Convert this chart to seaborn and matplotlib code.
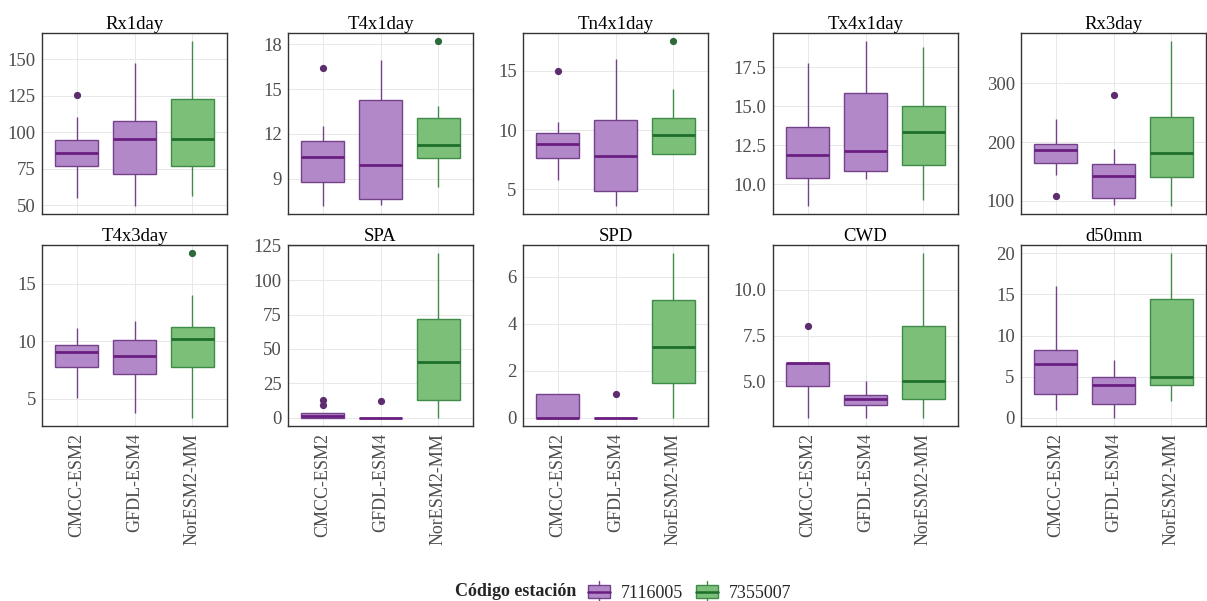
import numpy as np
import pandas as pd
import matplotlib
matplotlib.use("Agg")
import matplotlib.pyplot as plt
import matplotlib.patches as mpatches
from matplotlib.lines import Line2D
from matplotlib.legend_handler import HandlerBase
import seaborn as sns

# ---------------------------------------------------------------- data
models = ["CMCC-ESM2", "GFDL-ESM4", "NorESM2-MM"]
stations = ["7116005", "7355007"]
station_of_model = {"CMCC-ESM2": "7116005", "GFDL-ESM4": "7116005",
                    "NorESM2-MM": "7355007"}

rx1day = {"CMCC-ESM2": [54.5, 70, 77, 81, 85.5, 90, 94.5, 110.5, 125.5],
          "GFDL-ESM4": [49.5, 60, 71, 85, 95.5, 101, 107.5, 125, 147.5],
          "NorESM2-MM": [56.5, 68, 77, 88, 95.5, 110, 123, 140, 162.5]}
t4x1day = {"CMCC-ESM2": [7.2, 8.0, 8.82, 9.8, 10.45, 11.0, 11.5, 12.5, 16.4],
           "GFDL-ESM4": [7.25, 7.5, 7.63, 8.8, 9.95, 12.0, 14.25, 15.5, 16.95],
           "NorESM2-MM": [8.47, 9.5, 10.37, 10.8, 11.25, 12.0, 13.06, 13.9, 18.2]}
tn4x1day = {"CMCC-ESM2": [5.78, 6.8, 7.65, 8.3, 8.83, 9.3, 9.72, 10.67, 15.0],
            "GFDL-ESM4": [3.6, 4.2, 4.83, 6.5, 7.77, 9.5, 10.81, 13.0, 16.03],
            "NorESM2-MM": [7.99, 7.99, 7.99, 9.0, 9.61, 10.3, 11.0, 13.44, 17.5]}
tx4x1day = {"CMCC-ESM2": [8.62, 9.5, 10.42, 11.2, 11.88, 12.8, 13.67, 15.5, 17.75],
            "GFDL-ESM4": [10.31, 10.6, 10.84, 11.5, 12.13, 14.0, 15.83, 17.5, 19.15],
            "NorESM2-MM": [8.98, 10.2, 11.24, 12.3, 13.36, 14.2, 15.0, 17.0, 18.77]}
rx3day = {"CMCC-ESM2": [108.4, 143.3, 164.6, 176, 186, 191, 196.1, 215, 239.3],
          "GFDL-ESM4": [93.3, 100, 105.6, 124, 141.6, 152, 161.8, 188.8, 279.8],
          "NorESM2-MM": [91.6, 115, 140.4, 160, 181.5, 210, 243.3, 300, 371.3]}
t4x3day = {"CMCC-ESM2": [5.06, 6.5, 7.79, 8.5, 9.11, 9.4, 9.68, 10.4, 11.12],
           "GFDL-ESM4": [3.76, 5.5, 7.13, 8.0, 8.68, 9.5, 10.14, 11.0, 11.75],
           "NorESM2-MM": [3.36, 6.0, 7.79, 9.0, 10.23, 10.8, 11.26, 14.05, 17.64]}
spa = {"CMCC-ESM2": [0, 0, 0, 0.5, 1, 2, 3.3, 9, 13],
       "GFDL-ESM4": [0, 0, 0, 0, 0, 0, 0, 0, 12],
       "NorESM2-MM": [0, 6, 13.1, 28, 40.2, 55, 71.7, 95, 119.5]}
spd = {"CMCC-ESM2": [0, 0, 0, 0, 0, 1, 1, 1, 1],
       "GFDL-ESM4": [0, 0, 0, 0, 0, 0, 0, 0, 1],
       "NorESM2-MM": [0, 1, 1.5, 2, 3, 4, 5, 6, 7]}
cwd = {"CMCC-ESM2": [3, 4, 4.75, 5, 6, 6, 6, 6, 8],
       "GFDL-ESM4": [3, 3.5, 3.7, 4, 4, 4, 4.25, 4.5, 5],
       "NorESM2-MM": [3, 3.5, 4, 4.5, 5, 6.5, 8, 10, 12]}
d50mm = {"CMCC-ESM2": [1, 2, 2.92, 5, 6.48, 7.5, 8.24, 12, 16],
         "GFDL-ESM4": [0, 1, 1.64, 3, 3.96, 4.5, 4.96, 6, 7],
         "NorESM2-MM": [2, 3, 4, 4.5, 5, 10, 14.44, 17, 20]}

index_names = ["Rx1day", "T4x1day", "Tn4x1day", "Tx4x1day", "Rx3day",
               "T4x3day", "SPA", "SPD", "CWD", "d50mm"]
index_data = [rx1day, t4x1day, tn4x1day, tx4x1day, rx3day,
              t4x3day, spa, spd, cwd, d50mm]
index_ticks = [["50", "75", "100", "125", "150"],
               ["9", "12", "15", "18"],
               ["5", "10", "15"],
               ["10.0", "12.5", "15.0", "17.5"],
               ["100", "200", "300"],
               ["5", "10", "15"],
               ["0", "25", "50", "75", "100", "125"],
               ["0", "2", "4", "6"],
               ["5.0", "7.5", "10.0"],
               ["0", "5", "10", "15", "20"]]

# ---------------------------------------------------------------- style
sns.set_style("white")
plt.rcParams["font.family"] = ["Liberation Serif", "DejaVu Serif"]

fill = {"7116005": "#B388C8", "7355007": "#7CBF79"}
edge = {"7116005": "#74428A", "7355007": "#3F8C49"}
median_col = {"7116005": "#6A1F80", "7355007": "#1E6E2C"}
flier_col = {"7116005": "#5E2D70", "7355007": "#2B6A3A"}

W, H = 1207, 601
fig = plt.figure(figsize=(W / 100, H / 100), dpi=100)

col_left = [42, 288, 523, 773, 1021]
row_top = [33, 245]
pw, ph = 185, 181

for i, (name, data, ticks) in enumerate(zip(index_names, index_data, index_ticks)):
    r, c = divmod(i, 5)
    ax = fig.add_axes([col_left[c] / W, 1 - (row_top[r] + ph) / H, pw / W, ph / H])
    rows = [(m, station_of_model[m], v) for m in models for v in data[m]]
    df = pd.DataFrame(rows, columns=["model", "station", "value"])
    for st in stations:
        sub = df[df["station"] == st]
        sns.boxplot(data=sub, x="model", y="value", order=models,
                    color=fill[st], linecolor=edge[st], saturation=1,
                    width=0.75, linewidth=1.0, showcaps=False,
                    medianprops=dict(color=median_col[st], linewidth=2.0),
                    flierprops=dict(marker="o", markersize=4.2,
                                    markerfacecolor=flier_col[st],
                                    markeredgecolor=flier_col[st]),
                    ax=ax)
    vals = df["value"].to_numpy()
    lo, hi = vals.min(), vals.max()
    pad = 0.05 * (hi - lo)
    ax.set_xlim(-0.6, 2.6)
    tick_vals = [float(t) for t in ticks]
    ax.set_yticks(tick_vals)
    ax.set_yticklabels(ticks)
    ax.set_ylim(lo - pad, hi + pad)
    ax.set_xlabel("")
    ax.set_ylabel("")
    ax.grid(True, color="#E8E8E8", linewidth=0.7)
    ax.set_axisbelow(True)
    for s in ax.spines.values():
        s.set_color("#333333")
        s.set_linewidth(1.0)
    ax.tick_params(axis="y", length=3, width=0.8, color="#333333",
                   labelsize=13.5, labelcolor="#4D4D4D", pad=1.5)
    ax.set_xticks(range(len(models)))
    if r == 1:
        ax.set_xticklabels(models, rotation=90, fontsize=13,
                           color="#4D4D4D", va="top", ha="center")
        ax.tick_params(axis="x", length=3, width=0.8, color="#333333", pad=2)
    else:
        ax.set_xticklabels([])
        ax.tick_params(axis="x", length=0)
    ax.set_title(name, fontsize=13.5, color="black", pad=3)


# ---------------------------------------------------------------- legend
class BoxKey(HandlerBase):
    def __init__(self, med):
        super().__init__()
        self.med = med

    def create_artists(self, legend, orig_handle, xdescent, ydescent,
                       width, height, fontsize, trans):
        x0, y0 = -xdescent, -ydescent
        ec = orig_handle.get_edgecolor()
        rect = mpatches.Rectangle((x0, y0 + 0.15 * height), width, 0.7 * height,
                                  facecolor=orig_handle.get_facecolor(),
                                  edgecolor=ec, linewidth=1.0, transform=trans)
        cx = x0 + width / 2
        w1 = Line2D([cx, cx], [y0 - 0.05 * height, y0 + 0.15 * height],
                    color=ec, lw=1.0, transform=trans)
        w2 = Line2D([cx, cx], [y0 + 0.85 * height, y0 + 1.05 * height],
                    color=ec, lw=1.0, transform=trans)
        m = Line2D([x0, x0 + width], [y0 + 0.5 * height] * 2,
                   color=self.med, lw=1.8, transform=trans)
        return [rect, w1, w2, m]


handles = [mpatches.Patch(facecolor=fill[s], edgecolor=edge[s]) for s in stations]
fig.text(455 / W, 1 - 591 / H, "Código estación", fontsize=13,
         fontweight="bold", va="center", ha="left")
fig.legend(handles, stations, loc="center left",
           bbox_to_anchor=(588 / W, 1 - 592 / H), ncol=2, frameon=False,
           fontsize=13, handlelength=1.2, handleheight=1.25,
           handletextpad=0.6, columnspacing=0.75, borderaxespad=0, borderpad=0,
           handler_map={handles[0]: BoxKey(median_col[stations[0]]),
                        handles[1]: BoxKey(median_col[stations[1]])})

fig.savefig("out.png", dpi=100)
